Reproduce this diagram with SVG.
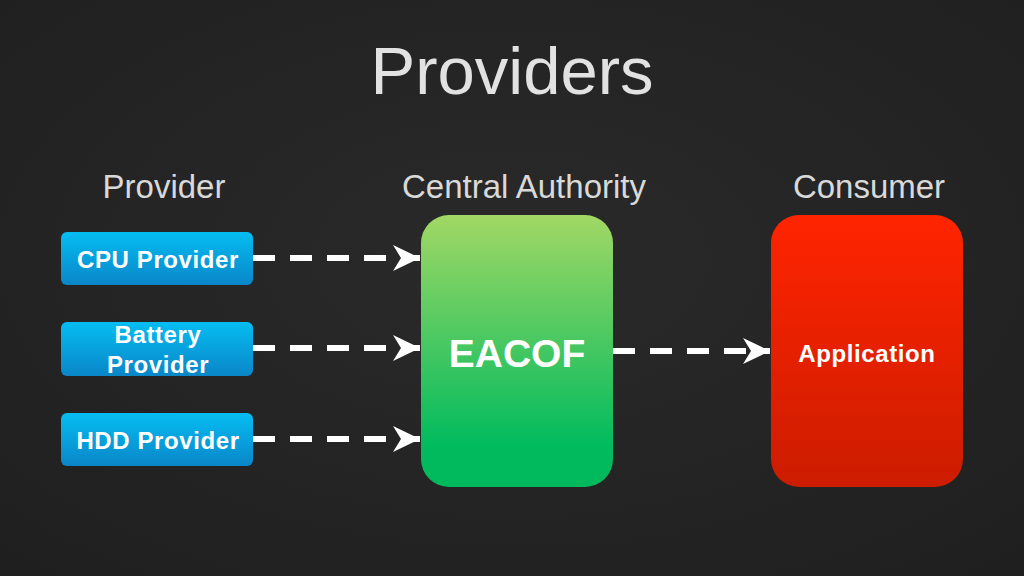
<svg xmlns="http://www.w3.org/2000/svg" width="1024" height="576" viewBox="0 0 1024 576">
  <style>
    .title { font-family: "Liberation Sans", Arial, sans-serif; font-size: 67px; fill: #e2e2e2; }
    .header { font-family: "Liberation Sans", Arial, sans-serif; font-size: 33px; fill: #d9d9d9; }
    .lbl { font-family: "Liberation Sans", Arial, sans-serif; font-weight: bold; fill: #ffffff; text-anchor: middle; }
    .small { font-size: 24px; letter-spacing: 0.6px; }
    .conn { fill: none; stroke: #ffffff; stroke-width: 6; stroke-dasharray: 22 15; }
  </style>
  <defs>
    <radialGradient id="bg" cx="50%" cy="45%" r="75%">
      <stop offset="0" stop-color="#2a2a2a"/>
      <stop offset="1" stop-color="#1f1f1f"/>
    </radialGradient>
    <linearGradient id="blue" x1="0" y1="0" x2="0" y2="1">
      <stop offset="0" stop-color="#05bdf2"/>
      <stop offset="1" stop-color="#0a86c8"/>
    </linearGradient>
    <linearGradient id="green" x1="0" y1="0" x2="0" y2="1">
      <stop offset="0" stop-color="#a2d865"/>
      <stop offset="0.85" stop-color="#00bb5e"/>
      <stop offset="1" stop-color="#00b95c"/>
    </linearGradient>
    <linearGradient id="red" x1="0" y1="0" x2="0" y2="1">
      <stop offset="0" stop-color="#ff2400"/>
      <stop offset="1" stop-color="#cc1c00"/>
    </linearGradient>
    <marker id="arrow" markerUnits="userSpaceOnUse" markerWidth="30" markerHeight="30" refX="27" refY="13" orient="auto">
      <path d="M0,0 L27,13 L0,26 L8,13 Z" fill="#ffffff"/>
    </marker>
  </defs>

  <rect width="1024" height="576" fill="url(#bg)"/>

  <text class="title" x="512" y="94" text-anchor="middle">Providers</text>
  <text class="header" x="164" y="198" text-anchor="middle">Provider</text>
  <text class="header" x="524" y="198" text-anchor="middle">Central Authority</text>
  <text class="header" x="869" y="198" text-anchor="middle">Consumer</text>

  <g id="connectors">
    <line class="conn" x1="253" y1="258" x2="420" y2="258" marker-end="url(#arrow)"/>
    <line class="conn" x1="253" y1="348" x2="420" y2="348" marker-end="url(#arrow)"/>
    <line class="conn" x1="253" y1="439" x2="420" y2="439" marker-end="url(#arrow)"/>
    <line class="conn" x1="613" y1="351" x2="770" y2="351" marker-end="url(#arrow)"/>
  </g>

  <g id="cpu-provider">
    <rect x="61" y="232" width="192" height="53" rx="6" fill="url(#blue)"/>
    <text class="lbl small" x="158" y="268">CPU Provider</text>
  </g>
  <g id="battery-provider">
    <rect x="61" y="322" width="192" height="54" rx="6" fill="url(#blue)"/>
    <text class="lbl small" x="158" y="343">Battery</text>
    <text class="lbl small" x="158" y="373">Provider</text>
  </g>
  <g id="hdd-provider">
    <rect x="61" y="413" width="192" height="53" rx="6" fill="url(#blue)"/>
    <text class="lbl small" x="158" y="449">HDD Provider</text>
  </g>
  <g id="eacof">
    <rect x="421" y="215" width="192" height="272" rx="28" fill="url(#green)"/>
    <text class="lbl" x="517" y="367" font-size="39">EACOF</text>
  </g>
  <g id="application">
    <rect x="771" y="215" width="192" height="272" rx="28" fill="url(#red)"/>
    <text class="lbl small" x="867" y="362">Application</text>
  </g>
</svg>
